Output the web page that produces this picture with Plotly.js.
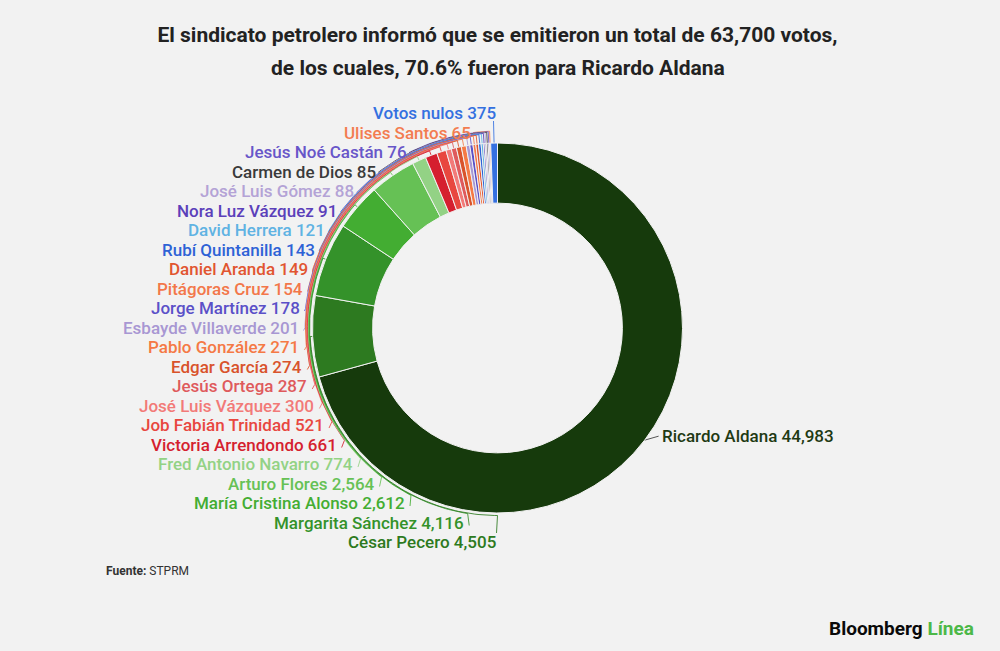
<!DOCTYPE html>
<html>
<head>
<meta charset="utf-8">
<script src="https://cdn.plot.ly/plotly-3.0.1.min.js"></script>
<style>html,body{margin:0;padding:0;background:#f2f2f2;}#chart{width:1000px;height:651px;}</style>
</head>
<body>
<div id="chart"></div>
<script>
// ---- data (pie order, clockwise from 12 o'clock) ----
const candidates = ["Ricardo Aldana","César Pecero","Margarita Sánchez","María Cristina Alonso","Arturo Flores",
  "Fred Antonio Navarro","Victoria Arrendondo","Job Fabián Trinidad","José Luis Vázquez","Jesús Ortega",
  "Edgar García","Pablo González","Esbayde Villaverde","Jorge Martínez","Pitágoras Cruz","Daniel Aranda",
  "Rubí Quintanilla","David Herrera","Nora Luz Vázquez","José Luis Gómez","Carmen de Dios","Jesús Noé Castán",
  "Ulises Santos","Votos nulos"];
const votes = [44983,4505,4116,2612,2564,774,661,521,300,287,274,271,201,178,154,149,143,121,91,88,85,76,65,375];
const colors = ["#163a0c","#2d7a20","#34922a","#43ad32","#66c155","#93d285","#d51f2f","#e8473f","#f27a78","#df5a5c",
  "#d9532b","#f57945","#a897d3","#5b50c8","#f3774a","#e15530","#2e62d6","#5fb3e3","#5b40ba","#b4a3d6","#3a3a3a",
  "#6856c9","#f37c50","#3470e0"];
const titleLine1 = "El sindicato petrolero informó que se emitieron un total de 63,700 votos,";
const titleLine2 = "de los cuales, 70.6% fueron para Ricardo Aldana";
const sourceText = "<b>Fuente:</b> STPRM";

// ---- layout geometry (pixels) ----
const W = 1000, H = 651;
const cx = 497.5, cy = 328, R = 185, HOLE = 0.675;
const labelTop = 113, labelStep = 19.5, RL = 197;
const FONT = "Roboto, 'Noto Sans', sans-serif";

function fmt(n){ return n.toLocaleString("en-US"); }
function pt(r, deg){ const a = deg*Math.PI/180; return [cx + r*Math.sin(a), cy - r*Math.cos(a)]; }

const total = votes.reduce((a,b)=>a+b,0);
const mid = []; let cum = 0;
votes.forEach(v => { mid.push((cum + v/2)/total*360); cum += v; });

const traces = [];
const annotations = [];

// leader lines + labels for the left column (all slices after the first, listed bottom-up)
const n = votes.length - 1;
for (let j = 0; j < n; j++) {
  const idx = votes.length - 1 - j;       // Votos nulos first (top), César last (bottom)
  const k = n - 1 - j;                     // arc order: César innermost
  const r = R + 2.5 + k*0.45;
  const y = labelTop + j*labelStep;
  const dy = y - cy;
  const xs = [], ys = [];
  let textX, theta;
  if (Math.abs(dy) < RL - 1) {
    const xt = cx - Math.sqrt(RL*RL - dy*dy);
    textX = xt;
    theta = Math.atan2(xt - cx, -(dy)) * 180/Math.PI; if (theta < 0) theta += 360;
    xs.push(xt + 3); ys.push(y + 3);
  } else {
    textX = cx;
    const xl = cx - 4;
    if (dy < 0) { theta = 360 + Math.asin((xl-cx)/r)*180/Math.PI; xs.push(xl); ys.push(y + 8); }
    else { theta = 180; xs.push(cx - 1); ys.push(y - 9); }
  }
  const s = mid[idx];
  const steps = Math.max(1, Math.ceil(Math.abs(s - theta)));
  for (let t = 0; t <= steps; t++) {
    const p = pt(r, theta + (s - theta)*t/steps);
    xs.push(p[0]); ys.push(p[1]);
  }
  const e = pt(R, s); xs.push(e[0]); ys.push(e[1]);
  traces.push({type:"scatter", mode:"lines", x:xs, y:ys, xaxis:"x", yaxis:"y",
    line:{color:colors[idx], width:1}, opacity:0.85, hoverinfo:"skip", showlegend:false});
  annotations.push({xref:"x", yref:"y", x:textX, y:y, xanchor:"right", yanchor:"middle", showarrow:false,
    text: candidates[idx] + " " + fmt(votes[idx]),
    font:{family:FONT, size:17, color:colors[idx], weight:500}});
}

// Ricardo Aldana label on the right
{
  const s = mid[0];
  const e = pt(R, s);
  const lx = e[0] + 14, ly = e[1] - 4;
  traces.push({type:"scatter", mode:"lines", x:[e[0], lx], y:[e[1], ly], xaxis:"x", yaxis:"y",
    line:{color:"#555", width:1}, hoverinfo:"skip", showlegend:false});
  annotations.push({xref:"x", yref:"y", x:lx + 1, y:ly, xanchor:"left", yanchor:"middle", showarrow:false,
    text: candidates[0] + " " + fmt(votes[0]), font:{family:FONT, size:17, color:"#1f3a14", weight:500}});
}

// donut
traces.push({
  type:"pie", labels:candidates, values:votes, sort:false, direction:"clockwise", rotation:0,
  hole:HOLE, textinfo:"none", hoverinfo:"label+value", showlegend:false,
  marker:{colors:colors, line:{color:"#f2f2f2", width:1}},
  domain:{x:[(cx-R)/W, (cx+R)/W], y:[1-(cy+R)/H, 1-(cy-R)/H]}
});

annotations.push({xref:"paper", yref:"paper", x:cx/W, y:1-68/H, xanchor:"center", yanchor:"middle", showarrow:false,
  text:"<b>"+titleLine2+"</b>", font:{family:FONT, size:21, color:"#222"}});
annotations.push({xref:"paper", yref:"paper", x:104/W, y:1-571/H, xanchor:"left", yanchor:"middle", showarrow:false,
  text:sourceText, font:{family:FONT, size:12, color:"#333"}});
annotations.push({xref:"paper", yref:"paper", x:976/W, y:1-628/H, xanchor:"right", yanchor:"middle", showarrow:false,
  text:"<b>Bloomberg <span style='color:#4cb848'>Línea</span></b>", font:{family:FONT, size:19, color:"#0a0a0a"}});

const layout = {
  width:W, height:H, autosize:false,
  margin:{l:0, r:0, t:0, b:0, pad:0},
  paper_bgcolor:"#f2f2f2", plot_bgcolor:"rgba(0,0,0,0)",
  title:{text:"<b>"+titleLine1+"</b>", x:cx/W, xanchor:"center", xref:"paper", y:1-35/H, yanchor:"middle", yref:"paper",
    font:{family:FONT, size:21, color:"#222"}},
  xaxis:{range:[0,W], visible:false, fixedrange:true},
  yaxis:{range:[H,0], visible:false, fixedrange:true},
  annotations:annotations,
  showlegend:false
};

Plotly.newPlot("chart", traces, layout, {displayModeBar:false, staticPlot:true});
</script>
</body>
</html>
